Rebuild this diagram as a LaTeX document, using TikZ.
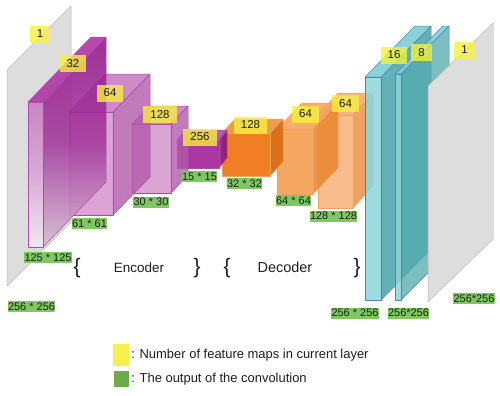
\documentclass[tikz,border=0pt]{standalone}
\usepackage{fontspec}
\setmainfont{Liberation Sans}
\definecolor{txt}{HTML}{1E1E1E}
\definecolor{lgreen}{HTML}{7DC85F}
\definecolor{leggreen}{HTML}{6AAE4A}
\definecolor{lyellow}{HTML}{F7F23C}
\definecolor{legyellow}{HTML}{F7F04A}
\definecolor{planefill}{HTML}{DDDDDD}
\definecolor{planeedge}{HTML}{B8B8B8}
\definecolor{medge}{HTML}{B04AA8}
\definecolor{mAfront}{HTML}{C67CC0}
\definecolor{mAfrontm}{HTML}{D9A6D4}
\definecolor{mAfrontb}{HTML}{F2EAF2}
\definecolor{mAside}{HTML}{92148A}
\definecolor{mAsidem}{HTML}{A2389A}
\definecolor{mAsideb}{HTML}{D6BCD5}
\definecolor{mAtop}{HTML}{AE36A5}
\definecolor{mBfront}{HTML}{D48CCB}
\definecolor{mBside}{HTML}{B25AA9}
\definecolor{mBtop}{HTML}{C56CBC}
\definecolor{mCfront}{HTML}{A3229A}
\definecolor{mCside}{HTML}{8B1682}
\definecolor{mCtop}{HTML}{B34AAA}
\definecolor{oedge}{HTML}{F0A060}
\definecolor{oAfront}{HTML}{EF7F22}
\definecolor{oAside}{HTML}{D9701A}
\definecolor{oAtop}{HTML}{F29A4A}
\definecolor{oBfront}{HTML}{F59B4C}
\definecolor{oBside}{HTML}{EA8730}
\definecolor{oBtop}{HTML}{F4A35A}
\definecolor{oCfront}{HTML}{F9B27A}
\definecolor{oCside}{HTML}{ED9148}
\definecolor{oCtop}{HTML}{F5A866}
\definecolor{tedge}{HTML}{4C82C0}
\definecolor{tfront}{HTML}{8DD6DB}
\definecolor{tside}{HTML}{52AAAD}
\definecolor{ttop}{HTML}{7CCFD4}
% cuboid: x1, ytop, x2, ybottom, dx, dy, front, side, top
\newcommand{\ucube}[9]{%
  \path[#8] (#3,#2) -- ++(#5,#6) -- ++(0,{#4-#2}) -- (#3,#4) -- cycle;
  \path[#9] (#1,#2) -- (#3,#2) -- ++(#5,#6) -- ++({#1-#3},0) -- cycle;
  \path[#7] (#1,#2) rectangle (#3,#4);
}
\begin{document}
\begin{tikzpicture}[x=1bp,y=-1bp,line join=round,line width=0.5bp,
  plane/.style={fill=planefill,draw=planeedge},
  glab/.style={fill=lgreen,inner xsep=0.5bp,inner ysep=0bp,minimum height=11bp,
    text=txt,font=\fontsize{11}{12}\selectfont},
  ylab/.style={fill=lyellow,fill opacity=.78,text opacity=1,inner xsep=7bp,
    inner ysep=0bp,minimum height=17bp,minimum width=18bp,text=txt,
    font=\fontsize{11.5}{12}\selectfont},
  bracetxt/.style={inner sep=0pt,text=txt,font=\fontsize{21}{21}\selectfont},
  wordtxt/.style={inner sep=0pt,text=txt},
  legtxt/.style={inner sep=0pt,text=txt,anchor=west,font=\fontsize{13}{14}\selectfont}]
\useasboundingbox[fill=white] (0,0) rectangle (500,395);

% left input plane
\path[plane] (7,70) -- (71,6) -- (71,222) -- (7,286) -- cycle;

% decoder (orange), back to front
\ucube{318}{115}{353}{208}{20}{-22}
  {fill=oCfront,draw=oedge,fill opacity=.85}
  {fill=oCside,draw=oedge,fill opacity=.85}
  {fill=oCtop,draw=oedge,fill opacity=.85}
\ucube{277}{129}{313}{194}{25}{-26}
  {fill=oBfront,draw=oedge,fill opacity=.88}
  {fill=oBside,draw=oedge,fill opacity=.88}
  {fill=oBtop,draw=oedge,fill opacity=.88}
\ucube{222}{133}{270}{176}{13}{-14}
  {fill=oAfront,draw=oedge}
  {fill=oAside,draw=oedge}
  {fill=oAtop,draw=oedge}

% encoder (magenta)
\ucube{177}{140}{219}{168}{8}{-10}
  {fill=mCfront,draw=medge,fill opacity=.9}
  {fill=mCside,draw=medge,fill opacity=.9}
  {fill=mCtop,draw=medge,fill opacity=.9}
\ucube{132}{124}{171}{193}{17}{-18}
  {fill=mBfront,draw=medge,fill opacity=.8}
  {fill=mBside,draw=medge,fill opacity=.8}
  {fill=mBtop,draw=medge,fill opacity=.8}
\ucube{69}{112}{113}{215}{37}{-38}
  {fill=mBfront,draw=medge,fill opacity=.8}
  {fill=mBside,draw=medge,fill opacity=.8}
  {fill=mBtop,draw=medge,fill opacity=.8}
\ucube{28}{102}{43}{247}{63}{-65}
  {top color=mAfront,bottom color=mAfrontb,middle color=mAfrontm,draw=medge,fill opacity=.9}
  {top color=mAside,bottom color=mAsideb,middle color=mAsidem,draw=medge,fill opacity=.88}
  {fill=mAtop,draw=medge,fill opacity=.9}

% output layers (teal)
\ucube{365}{77}{381}{300}{50}{-51}
  {fill=tfront,draw=tedge,fill opacity=.85}
  {fill=tside,draw=tedge,fill opacity=.9}
  {fill=ttop,draw=tedge,fill opacity=.9}
\ucube{395}{74}{401}{300}{48}{-48}
  {fill=tfront,draw=tedge,fill opacity=.85}
  {fill=tside,draw=tedge,fill opacity=.75}
  {fill=ttop,draw=tedge,fill opacity=.85}

% right output plane
\path[plane] (428,86) -- (493,23) -- (493,239) -- (428,302) -- cycle;

% feature map counts
\node[ylab] (y1) at (40,34) {1};
\node[ylab] (y32) at (73,63.5) {32};
\node[ylab] (y64a) at (110,93) {64};
\node[ylab] (y128a) at (160,114.5) {128};
\node[ylab] (y256) at (200,137) {256};
\node[ylab] (y128b) at (250.5,125) {128};
\node[ylab] (y64b) at (305.5,114) {64};
\node[ylab] (y64c) at (345.5,103.5) {64};
\node[ylab] (y16) at (394,55) {16};
\node[ylab] (y8) at (421.5,52.5) {8};
\node[ylab] (y1r) at (464.5,50) {1};

% output sizes
\node[glab] (g256a) at (31.5,306.5) {256 * 256};
\node[glab] (g125) at (48,257.5) {125 * 125};
\node[glab] (g61) at (89.5,223.5) {61 * 61};
\node[glab] (g30) at (151,202) {30 * 30};
\node[glab] (g15) at (199.5,176.5) {15 * 15};
\node[glab] (g32) at (244.5,183.5) {32 * 32};
\node[glab] (g64) at (293.5,200.5) {64 * 64};
\node[glab] (g128) at (333.5,216) {128 * 128};
\node[glab] (g256b) at (355,313) {256 * 256};
\node[glab] (g256c) at (408.5,313) {256*256};
\node[glab] (g256d) at (474,298.5) {256*256};

% encoder / decoder braces
\node[bracetxt] (b1) at (77,268) {\{};
\node[wordtxt,font=\fontsize{13.5}{14}\selectfont] (enc) at (139,268) {Encoder};
\node[bracetxt] (b2) at (197,268) {\}};
\node[bracetxt] (b3) at (227,268) {\{};
\node[wordtxt,font=\fontsize{14.5}{15}\selectfont] (dec) at (285,267) {Decoder};
\node[bracetxt] (b4) at (357,268) {\}};

% legend
\path[fill=legyellow] (113,344) rectangle (129,366);
\path[fill=leggreen] (114,371) rectangle (129,387);
\node[legtxt] (l1) at (131,355) {: Number of feature maps in current layer};
\node[legtxt] (l2) at (131,379) {: The output of the convolution};
\end{tikzpicture}
\end{document}
